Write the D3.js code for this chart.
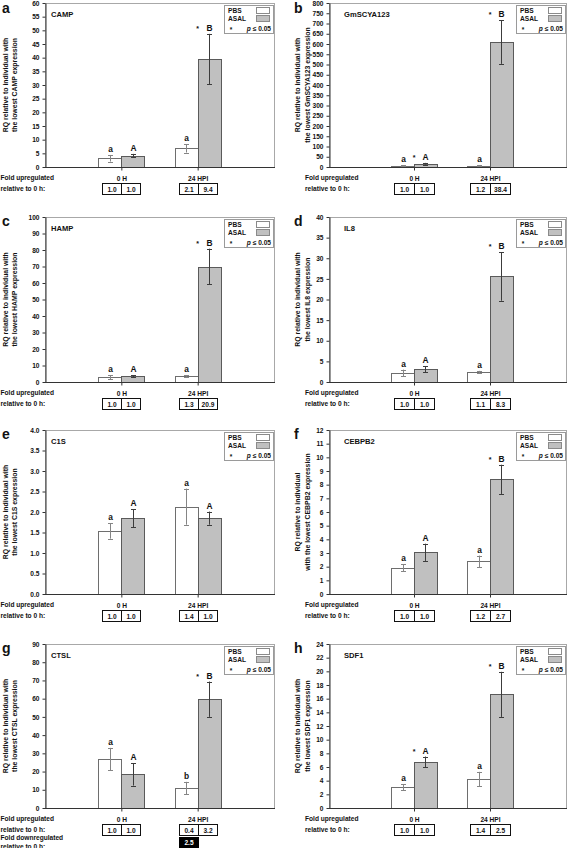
<!DOCTYPE html>
<html><head><meta charset="utf-8">
<script src="https://cdn.jsdelivr.net/npm/d3@7"></script>
<style>
body{margin:0;background:#fff}
svg{display:block}
text{font-family:"Liberation Sans",Arial,sans-serif;font-weight:bold;fill:#111}
</style>
</head><body><svg id="chart" width="567" height="848"></svg>
<script>
// ---------------- data ----------------
const panelLetters = ["a","b","c","d","e","f","g","h"];
const genes = ["CAMP","GmSCYA123","HAMP","IL8","C1S","CEBPB2","CTSL","SDF1"];
const timepoints = ["0 H","24 HPI"];
const seriesNames = ["PBS","ASAL"];
const pbsMean = [[3.2,6.8],[6,7.2],[2.9,3.7],[2.2,2.4],[1.54,2.13],[1.93,2.39],[26.8,10.95],[3.02,4.24]];
const pbsErr  = [[1.2,1.5],[2,2],[1.3,0.5],[0.8,0.3],[0.19,0.44],[0.25,0.42],[6.2,3.4],[0.45,1.05]];
const asalMean = [[4.2,39.5],[16,610],[3.35,70],[3.1,25.6],[1.85,1.85],[3.05,8.39],[18.4,59.7],[6.73,16.63]];
const asalErr  = [[0.6,9.2],[4,107],[0.6,10.8],[0.7,5.9],[0.22,0.16],[0.63,1.07],[6.1,9.7],[0.8,3.3]];
const pbsGroup  = [["a","a"],["a","a"],["a","a"],["a","a"],["a","a"],["a","a"],["a","b"],["a","a"]];
const asalGroup = [["A","B"],["A","B"],["A","B"],["A","B"],["A","A"],["A","B"],["A","B"],["A","B"]];
const asalStar  = [[0,1],[1,1],[0,1],[0,1],[0,0],[0,1],[0,1],[1,1]];
const yMax  = [60,800,100,40,4,12,90,24];
const yStep = [5,50,10,5,0.5,1,10,2];
const yFormat = ["d","d","d","d",".1f","d","d","d"];
const yTitle1 = ["RQ relative to individual with","RQ relative to individual with","RQ relative to individual with","RQ relative to individual with","RQ relative to individual with","RQ relative to individual","RQ relative to individual with","RQ relative to individual with"];
const yTitle2 = ["the lowest CAMP expression","the lowest GmSCYA123 expression","the lowest HAMP expression","the lowest IL8 expression","the lowest C1S expression","with the lowest CEBPB2 expression","the lowest CTSL expression","the lowest SDF1 expression"];
const foldUp = [
  [["1.0","1.0"],["2.1","9.4"]],
  [["1.0","1.0"],["1.2","38.4"]],
  [["1.0","1.0"],["1.3","20.9"]],
  [["1.0","1.0"],["1.1","8.3"]],
  [["1.0","1.0"],["1.4","1.0"]],
  [["1.0","1.0"],["1.2","2.7"]],
  [["1.0","1.0"],["0.4","3.2"]],
  [["1.0","1.0"],["1.4","2.5"]]
];
const foldDownPanel = 6;           // panel g
const foldDownValue = "2.5";       // PBS, 24 HPI
const legendSig = "p ≤ 0.05";

// ---------------- layout ----------------
const rowTop  = [3, 217, 430, 644];
const rowZero = [167, 382, 594, 808];
const colFrameLeft = [45, 329];
const colRange0 = [45, 338];
const colRight = [274, 566];
const colTitleX = [7.5, 300];
const colLetterX = [2, 294];
const colFoldX = [0.5, 305];

const svg = d3.select("#chart");
const FS = 6.6;

panelLetters.forEach((letter, i) => {
  const col = i % 2, row = Math.floor(i / 2);
  const top = rowTop[row], zero = rowZero[row];
  const fl = colFrameLeft[col], fr = colRight[col];
  const x = d3.scaleLinear().domain([0, 3]).range([colRange0[col], fr]);
  const y = d3.scaleLinear().domain([0, yMax[i]]).range([zero, top]);
  const bw = (x(1) - x(0)) * 0.3;
  const g = svg.append("g");

  // frame (plot area border)
  g.append("rect").attr("x", fl + 0.5).attr("y", top + 0.5)
    .attr("width", fr - fl).attr("height", zero - top)
    .attr("fill", "none").attr("stroke", "#a8a8a8").attr("stroke-width", 1);

  // bars
  const bars = [];
  timepoints.forEach((t, c) => {
    bars.push({s: 0, c, m: pbsMean[i][c], e: pbsErr[i][c], lab: pbsGroup[i][c], star: 0});
    bars.push({s: 1, c, m: asalMean[i][c], e: asalErr[i][c], lab: asalGroup[i][c], star: asalStar[i][c]});
  });
  bars.forEach(b => {
    const cx = x(b.c + 1);
    const x0 = b.s === 0 ? cx - bw : cx;
    const xa = Math.round(x0) + 0.5, xb = Math.round(x0 + bw) + 0.5;
    const yt = Math.round(y(b.m)) + 0.5;
    g.append("rect").attr("x", xa).attr("y", yt)
      .attr("width", xb - xa).attr("height", Math.max(0, zero + 0.5 - yt))
      .attr("fill", b.s === 0 ? "#ffffff" : "#c0c0c0")
      .attr("stroke", b.s === 0 ? "#6e6e6e" : "#5a5a5a").attr("stroke-width", 1);
  });
  // error bars + group letters
  bars.forEach(b => {
    const cx = x(b.c + 1);
    const bc = Math.round(b.s === 0 ? cx - bw / 2 : cx + bw / 2) + 0.5;
    const y1 = y(b.m + b.e), y2 = y(Math.max(0, b.m - b.e));
    const col = b.s === 0 ? "#858585" : "#3c3c3c";
    g.append("line").attr("x1", bc).attr("x2", bc).attr("y1", y1).attr("y2", y2)
      .attr("stroke", col).attr("stroke-width", 1);
    [y1, y2].forEach(yy => g.append("line").attr("x1", bc - 2.5).attr("x2", bc + 2.5)
      .attr("y1", Math.round(yy) + 0.5).attr("y2", Math.round(yy) + 0.5)
      .attr("stroke", col).attr("stroke-width", 1));
    g.append("text").attr("x", bc).attr("y", y1 - 3)
      .attr("text-anchor", "middle").attr("font-size", 8.4).text(b.lab);
    if (b.star) {
      g.append("text").attr("x", cx).attr("y", y1 - 3)
        .attr("text-anchor", "middle").attr("font-size", 7).text("*");
    }
  });

  // y axis
  const ticks = d3.range(0, yMax[i] + yStep[i] / 2, yStep[i]);
  const ya = g.append("g").attr("transform", `translate(${fl + 0.5},0)`)
    .call(d3.axisLeft(y).tickValues(ticks).tickSize(3).tickSizeOuter(0).tickPadding(3)
      .tickFormat(d3.format(yFormat[i])));
  ya.select(".domain").attr("stroke", "#333");
  ya.selectAll(".tick line").attr("stroke", "#333");
  ya.selectAll(".tick text").attr("font-size", FS).attr("font-family", '"Liberation Sans",Arial,sans-serif').attr("font-weight", "bold").attr("fill", "#111");

  // x axis
  const xa = g.append("g").attr("transform", `translate(0,${zero + 0.5})`)
    .call(d3.axisBottom(x).tickValues([1, 2]).tickSize(3).tickSizeOuter(0).tickPadding(5.5)
      .tickFormat(v => timepoints[v - 1]));
  xa.select(".domain").remove();
  xa.selectAll(".tick line").attr("stroke", "#333");
  xa.selectAll(".tick text").attr("font-size", FS).attr("font-family", '"Liberation Sans",Arial,sans-serif').attr("font-weight", "bold").attr("fill", "#111");
  g.append("line").attr("x1", fl).attr("x2", fr + 1).attr("y1", zero + 0.5).attr("y2", zero + 0.5)
    .attr("stroke", "#333");

  // y title
  const tx = colTitleX[col], tyc = (top + zero) / 2;
  g.append("text").attr("transform", `translate(${tx},${tyc}) rotate(-90)`)
    .attr("text-anchor", "middle").attr("font-size", 6.9).text(yTitle1[i]);
  g.append("text").attr("transform", `translate(${tx + 9.5},${tyc}) rotate(-90)`)
    .attr("text-anchor", "middle").attr("font-size", 6.9).text(yTitle2[i]);

  // panel letter
  g.append("text").attr("x", colLetterX[col]).attr("y", row === 0 ? 13 : top + 9)
    .attr("font-size", 14).text(letter);

  // gene label
  g.append("text").attr("x", colRange0[col] + 6).attr("y", top + 14)
    .attr("font-size", 7.6).text(genes[i]);

  // legend
  const lx = fr - 50, ly = top + 2;
  g.append("rect").attr("x", lx + 0.5).attr("y", ly + 0.5).attr("width", 49).attr("height", 28)
    .attr("fill", "#fff").attr("stroke", "#9a9a9a");
  seriesNames.forEach((s, k) => {
    g.append("text").attr("x", lx + 4).attr("y", ly + 7.8 + k * 8).attr("font-size", FS).text(s);
    g.append("rect").attr("x", lx + 32.5).attr("y", ly + 2.5 + k * 8).attr("width", 13).attr("height", 6)
      .attr("fill", k === 0 ? "#fff" : "#c0c0c0").attr("stroke", "#8a8a8a");
  });
  g.append("text").attr("x", lx + 7).attr("y", ly + 27).attr("font-size", 6.5)
    .attr("text-anchor", "middle").text("*");
  const sig = g.append("text").attr("x", lx + 47).attr("y", ly + 25.5).attr("font-size", FS)
    .attr("text-anchor", "end");
  sig.append("tspan").attr("font-style", "italic").text(legendSig.slice(0, 1));
  sig.append("tspan").text(legendSig.slice(1));

  // fold table
  const fx = colFoldX[col];
  g.append("text").attr("x", fx).attr("y", zero + 13).attr("font-size", FS).text("Fold upregulated");
  g.append("text").attr("x", fx).attr("y", zero + 23.5).attr("font-size", FS).text("relative to 0 h:");
  const cw = col === 0 ? 19 : 20;
  timepoints.forEach((t, c) => {
    const cx = Math.round(x(c + 1));
    foldUp[i][c].forEach((v, k) => {
      const bx = k === 0 ? cx - cw : cx;
      g.append("rect").attr("x", bx + 0.5).attr("y", zero + 16.5).attr("width", cw).attr("height", 11)
        .attr("fill", "#fff").attr("stroke", "#111").attr("stroke-width", 1);
      g.append("text").attr("x", bx + cw / 2 + 0.5).attr("y", zero + 24.5).attr("text-anchor", "middle")
        .attr("font-size", FS).text(v);
    });
  });
  if (i === foldDownPanel) {
    g.append("text").attr("x", fx).attr("y", zero + 32).attr("font-size", FS).text("Fold downregulated");
    g.append("text").attr("x", fx).attr("y", zero + 40.5).attr("font-size", FS).text("relative to 0 h:");
    const cx = Math.round(x(2));
    g.append("rect").attr("x", cx - cw + 0.5).attr("y", zero + 29.5).attr("width", cw).attr("height", 10)
      .attr("fill", "#000").attr("stroke", "#000");
    g.append("text").attr("x", cx - cw / 2 + 0.5).attr("y", zero + 37).attr("text-anchor", "middle")
      .attr("font-size", FS).style("fill", "#fff").text(foldDownValue);
  }
});
</script>
</body></html>
